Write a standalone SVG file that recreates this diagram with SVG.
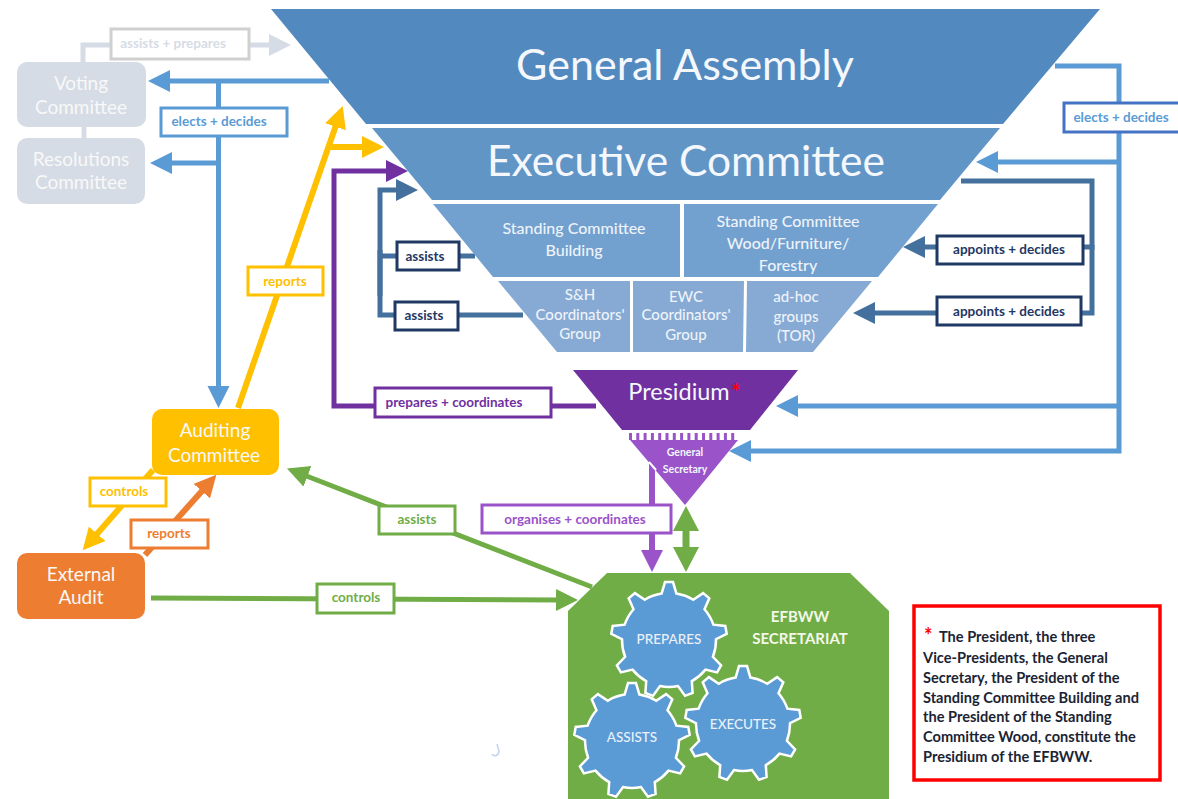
<svg xmlns="http://www.w3.org/2000/svg" xmlns:xlink="http://www.w3.org/1999/xlink" width="1178" height="799" viewBox="0 0 1178 799">
<style>
text{font-family:"Lato","Noto Sans","Liberation Sans",sans-serif;text-anchor:middle}
.w{fill:#f4f8fc}
.l{font-weight:700;font-size:13.5px}
.n{font-size:19px;fill:#f8f8f8}
.s{font-size:16px;fill:#eef3fa;font-weight:500}
.t{font-size:15px;fill:#eef3fa;font-weight:500}
.g{font-size:13.5px;fill:#eaf1f9;font-weight:500}
.note{font-size:14.6px;font-weight:700;fill:#1c2433;text-anchor:start}
.box{fill:#fff;stroke-width:3}
.c{fill:none}
.lb{stroke:#5b9bd5;stroke-width:5;marker-end:url(#mb)}
.st{stroke:#44709d;stroke-width:5;marker-end:url(#ms)}
.ye{stroke:#ffc000;stroke-width:6;marker-end:url(#my)}
.or{stroke:#ed7d31;stroke-width:6;marker-end:url(#mo)}
.gr{stroke:#70ad47;stroke-width:5;marker-end:url(#mg)}
.pu{stroke:#7030a0;stroke-width:5;marker-end:url(#mp)}
.vi{stroke:#9a53c9;stroke-width:6;marker-end:url(#mv)}
.gy{stroke:#d6dce5;stroke-width:5;marker-end:url(#mx)}
</style>
<defs>
<marker id="mb" markerUnits="userSpaceOnUse" markerWidth="24" markerHeight="24" refX="1" refY="11" orient="auto"><path d="M0 0L22 11L0 22z" fill="#5b9bd5"/></marker>
<marker id="ms" markerUnits="userSpaceOnUse" markerWidth="24" markerHeight="24" refX="1" refY="11" orient="auto"><path d="M0 0L22 11L0 22z" fill="#44709d"/></marker>
<marker id="my" markerUnits="userSpaceOnUse" markerWidth="24" markerHeight="24" refX="1" refY="11" orient="auto"><path d="M0 0L22 11L0 22z" fill="#ffc000"/></marker>
<marker id="mo" markerUnits="userSpaceOnUse" markerWidth="24" markerHeight="24" refX="1" refY="11" orient="auto"><path d="M0 0L22 11L0 22z" fill="#ed7d31"/></marker>
<marker id="mg" markerUnits="userSpaceOnUse" markerWidth="24" markerHeight="24" refX="1" refY="11" orient="auto"><path d="M0 0L22 11L0 22z" fill="#70ad47"/></marker>
<marker id="mp" markerUnits="userSpaceOnUse" markerWidth="24" markerHeight="24" refX="1" refY="11" orient="auto"><path d="M0 0L22 11L0 22z" fill="#7030a0"/></marker>
<marker id="mv" markerUnits="userSpaceOnUse" markerWidth="24" markerHeight="24" refX="1" refY="11" orient="auto"><path d="M0 0L22 11L0 22z" fill="#9a53c9"/></marker>
<marker id="mx" markerUnits="userSpaceOnUse" markerWidth="24" markerHeight="24" refX="1" refY="11" orient="auto"><path d="M0 0L22 11L0 22z" fill="#d6dce5"/></marker>
<marker id="mw" markerUnits="userSpaceOnUse" markerWidth="26" markerHeight="28" refX="1" refY="13" orient="auto-start-reverse"><path d="M0 0L25 13L0 26z" fill="#70ad47"/></marker>
<path id="gear" fill="#5b9bd5" stroke="#fff" stroke-width="2.5" d="M-7.4-46.4L-4-57.9L4-57.9L7.4-46.4A47 47 0 0 1 24.2-40.3L34.1-46.9L40.3-41.7L35.5-30.8A47 47 0 0 1 44.4-15.3L56.3-14L57.7-6.1L47-.8A47 47 0 0 1 43.9 16.8L52.1 25.4L48.1 32.4L36.5 29.6A47 47 0 0 1 22.8 41.1L23.6 53L16 55.8L9 46.1A47 47 0 0 1-9 46.1L-16 55.8L-23.6 53L-22.8 41.1A47 47 0 0 1-36.5 29.6L-48.1 32.4L-52.1 25.4L-43.9 16.8A47 47 0 0 1-47-.8L-57.7-6.1L-56.3-14L-44.4-15.3A47 47 0 0 1-35.5-30.8L-40.3-41.7L-34.1-46.9L-24.2-40.3A47 47 0 0 1-7.4-46.4z"/>
</defs>
<rect width="1178" height="799" fill="#fff"/>

<g id="connectors">
<path class="c gy" d="M83 62V45H270"/>
<path class="c" stroke="#d6dce5" stroke-width="5" d="M84 127V138"/>
<path class="c lb" d="M329 81H169"/>
<path class="c lb" d="M218.500 81V387"/>
<path class="c lb" d="M218 163H171"/>
<path class="c ye" d="M238 408L335.800 125.800"/>
<path class="c ye" d="M329 147H363"/>
<path class="c pu" d="M596 406H334V171H387"/>
<path class="c st" d="M380 296V190H397"/>
<path class="c" stroke="#44709d" stroke-width="5" d="M380 256H475M380 250V315H523"/>
<path class="c lb" d="M1055 66H1119V451H750"/>
<path class="c lb" d="M1119 406H797"/>
<path class="c lb" d="M1119 162H997"/>
<path class="c st" d="M961 181H1092V247H924"/>
<path class="c st" d="M1092 245V313H874"/>
<path class="c ye" d="M153 470L96.500 534.500"/>
<path class="c or" d="M145 555L202.400 490.400"/>
<path class="c gr" d="M151 598L557 600"/>
<path class="c gr" stroke-width="6" d="M592 587L306.500 476"/>
<path class="c" stroke="#70ad47" stroke-width="7" marker-start="url(#mw)" marker-end="url(#mw)" d="M686 530V548"/>
<path class="c vi" d="M652 462V551"/>
</g>

<g id="general-assembly"><polygon points="271,9 1100,9 1003,124 366,124" fill="#5289bf"/><text x="685" y="80" font-size="43" class="w">General Assembly</text></g>
<g id="executive-committee"><polygon points="372,128 1000,128 940,200 432,200" fill="#6195c6"/><text x="686" y="176" font-size="42.500" class="w">Executive Committee</text></g>
<g id="standing-building"><polygon points="433,204 680,204 680,277 493,277" fill="#72a0cf"/><text class="s" x="574" y="234">Standing Committee</text><text class="s" x="574" y="256">Building</text></g>
<g id="standing-wood"><polygon points="684,204 938,204 878,277 684,277" fill="#72a0cf"/><text class="s" x="788" y="227">Standing Committee</text><text class="s" x="788" y="249">Wood/Furniture/</text><text class="s" x="788" y="271">Forestry</text></g>
<g id="sh-group"><polygon points="498,281 630,281 630,352 557,352" fill="#86aad3"/><text class="t" x="580" y="300">S&amp;H</text><text class="t" x="580" y="320">Coordinators'</text><text class="t" x="580" y="339">Group</text></g>
<g id="ewc-group"><polygon points="633,281 744,281 743,352 633,352" fill="#86aad3"/><text class="t" x="686" y="302">EWC</text><text class="t" x="686" y="320">Coordinators'</text><text class="t" x="686" y="340">Group</text></g>
<g id="adhoc-groups"><polygon points="747,281 872,281 813,352 746,352" fill="#86aad3"/><text class="t" x="796" y="302">ad-hoc</text><text class="t" x="796" y="322">groups</text><text class="t" x="796" y="341">(TOR)</text></g>

<g id="presidium"><polygon points="573,370 798,370 750,430 622,430" fill="#7030a0"/><text x="679" y="400" font-size="23.500" class="w">Presidium</text><text x="736" y="400" font-size="22" fill="#f00" font-weight="700">*</text></g>
<g id="general-secretary">
<path d="M629 436.500H738" fill="none" stroke="#9a53c9" stroke-width="7" stroke-dasharray="3 4.300"/>
<polygon points="630,440 738,440 685,505" fill="#9a53c9"/>
<path d="M649 462L656 470" stroke="#fff" stroke-width="2" fill="none"/>
<text x="685" y="456" font-size="10.500" font-weight="700" class="w">General</text><text x="685" y="473" font-size="10.500" font-weight="700" class="w">Secretary</text></g>

<g id="voting-committee"><rect x="17" y="62" width="129" height="65" rx="10" fill="#d6dce5"/><text class="n" x="81" y="90">Voting</text><text class="n" x="81" y="114">Committee</text></g>
<g id="resolutions-committee"><rect x="17" y="138" width="128" height="66" rx="10" fill="#d6dce5"/><text class="n" x="81" y="166">Resolutions</text><text class="n" x="81" y="189">Committee</text></g>
<g id="auditing-committee"><rect x="152" y="409" width="127" height="66" rx="10" fill="#ffc000"/><text class="n" x="215" y="437">Auditing</text><text class="n" x="214" y="462">Committee</text></g>
<g id="external-audit"><rect x="17" y="553" width="128" height="66" rx="10" fill="#ed7d31"/><text class="n" x="81" y="581">External</text><text class="n" x="81" y="604">Audit</text></g>

<g id="secretariat"><polygon points="607,573 850,573 889,611 889,799 568,799 568,611" fill="#70ad47"/>
<text x="800" y="622" font-size="15" font-weight="700" fill="#f4f8e8">EFBWW</text><text x="800" y="644" font-size="15" font-weight="700" fill="#f4f8e8">SECRETARIAT</text></g>
<g id="gear-prepares"><use href="#gear" x="669" y="640"/><text class="g" x="669" y="644">PREPARES</text></g>
<g id="gear-executes"><use href="#gear" x="743" y="724"/><text class="g" x="743" y="729">EXECUTES</text></g>
<g id="gear-assists"><use href="#gear" x="632" y="741"/><text class="g" x="632" y="742">ASSISTS</text></g>

<path d="M497 744L499 751C499 756 494 757 492 754" fill="none" stroke="#c3d3ea" stroke-width="1.500"/>

<g id="note"><rect x="914" y="606" width="246" height="174" fill="#fff" stroke="#f00" stroke-width="3.500"/>
<text x="924" y="643" font-size="20" font-weight="700" fill="#f00" style="text-anchor:start">*</text>
<text class="note" x="939" y="642">The President, the three</text>
<text class="note" x="923" y="663">Vice-Presidents, the General</text>
<text class="note" x="923" y="683">Secretary, the President of the</text>
<text class="note" x="923" y="703">Standing Committee Building and</text>
<text class="note" x="923" y="722">the President of the Standing</text>
<text class="note" x="923" y="742">Committee Wood, constitute the</text>
<text class="note" x="923" y="762">Presidium of the EFBWW.</text></g>

<g id="labels">
<g><rect class="box" x="111" y="29" width="138" height="30" stroke="#d0d0d0"/><text class="l" x="173" y="48" fill="#d6dce5">assists + prepares</text></g>
<g><rect class="box" x="161" y="108" width="126" height="28" stroke="#5b9bd5"/><text class="l" x="219" y="126" fill="#5b9bd5">elects + decides</text></g>
<g><rect class="box" x="1064" y="103" width="118" height="29" stroke="#4472c4"/><text class="l" x="1121" y="122" fill="#5b9bd5">elects + decides</text></g>
<g><rect class="box" x="248" y="267" width="75" height="28" stroke="#ffc000"/><text class="l" x="285" y="286" fill="#ffc000">reports</text></g>
<g><rect class="box" x="397" y="242" width="62" height="28" stroke="#1f3864"/><text class="l" x="425" y="261" fill="#1f3864">assists</text></g>
<g><rect class="box" x="395" y="302" width="63" height="28" stroke="#1f3864"/><text class="l" x="424" y="320" fill="#1f3864">assists</text></g>
<g><rect class="box" x="375" y="388" width="176" height="29" stroke="#7030a0"/><text class="l" x="454" y="407" fill="#7030a0">prepares + coordinates</text></g>
<g><rect class="box" x="937" y="236" width="146" height="28" stroke="#1f3864"/><text class="l" x="1009" y="254" fill="#1f3864">appoints + decides</text></g>
<g><rect class="box" x="937" y="297" width="144" height="28" stroke="#1f3864"/><text class="l" x="1009" y="316" fill="#1f3864">appoints + decides</text></g>
<g><rect class="box" x="90" y="478" width="76" height="28" stroke="#ffc000"/><text class="l" x="124" y="496" fill="#ffc000">controls</text></g>
<g><rect class="box" x="131" y="520" width="77" height="28" stroke="#ed7d31"/><text class="l" x="169" y="538" fill="#ed7d31">reports</text></g>
<g><rect class="box" x="379" y="506" width="76" height="28" stroke="#70ad47"/><text class="l" x="417" y="524" fill="#70ad47">assists</text></g>
<g><rect class="box" x="317" y="584" width="77" height="29" stroke="#70ad47"/><text class="l" x="356" y="602" fill="#70ad47">controls</text></g>
<g><rect class="box" x="482" y="505" width="189" height="28" stroke="#9a53c9"/><text class="l" x="575" y="524" fill="#9a53c9">organises + coordinates</text></g>
</g>
</svg>
